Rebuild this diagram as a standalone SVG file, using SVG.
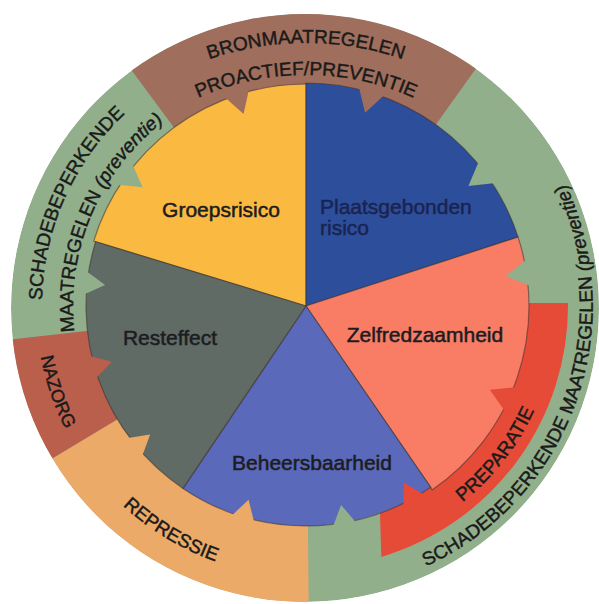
<svg xmlns="http://www.w3.org/2000/svg" width="599" height="604" viewBox="0 0 599 604">
<defs>
<style>
.lbl{font-family:"Liberation Sans",Arial,sans-serif;font-size:21px;fill:#1c1c22;stroke:#1c1c22;stroke-width:0.5;text-anchor:middle}
.ring{font-family:"Liberation Sans",Arial,sans-serif;font-size:19px;fill:#1a1a1a;stroke:#1a1a1a;stroke-width:0.45}
.slice{stroke:#3a3030;stroke-opacity:0.55;stroke-width:1.2}
</style>
<clipPath id="outer"><circle cx="305" cy="308" r="294"/></clipPath>
<path id="tp1" d="M96,130 A297 297 0 0 1 516,130"/>
<path id="tp2" d="M118.6,152.6 A265 265 0 0 1 493.4,152.6"/>
<path id="tp3" d="M68.7,421.7 A264 264 0 0 1 233.2,52.2"/>
<path id="tp4" d="M98.4,411.8 A233 233 0 0 1 237.9,83.2"/>
<path id="tp5" d="M53.9,209.2 A270 270 0 0 0 166.9,537.4"/>
<path id="tp6" d="M38.3,348.4 A271 271 0 0 0 394.2,562.2"/>
<path id="tp7" d="M314.8,556.8 A251 251 0 0 0 551.5,253.8"/>
<path id="tp8" d="M256.2,588.6 A287 287 0 0 0 449.5,57.5"/>
</defs>
<rect width="599" height="604" fill="#ffffff"/>
<g id="ring" clip-path="url(#outer)">
<circle cx="305" cy="308" r="294" fill="#92af8c"/>
<path id="band-bron" d="M306,306 L56.2,-31.6 A420 420 0 0 1 550.5,-35.5 Z" fill="#a06e5c"/>
<path id="band-repressie" d="M306,306 L309.7,726 A420 420 0 0 1 -54,522.3 Z" fill="#ecaa69"/>
<path id="band-nazorg" d="M306,306 L-54,522.3 A420 420 0 0 1 -111.3,353.5 Z" fill="#b95f4b"/>
<path id="band-preparatie" d="M526,303 L568,303 A262 262 0 0 1 381.3,556.9 L380,513 A220 220 0 0 0 526,303 Z" fill="#e64b37"/>
</g>
<g id="pie">
<g id="groepsrisico"><path class="slice" d="M306,306 L93.7,241.1 A222 222 0 0 1 306,84 Z" fill="#fab941"/><text class="lbl" x="221" y="217">Groepsrisico</text></g>
<g id="plaatsgebonden"><path class="slice" d="M306,306 L306,83 A223 223 0 0 1 518.1,237.1 Z" fill="#2d4e9b"/><text class="lbl" style="fill:#1a2450;stroke:#1a2450;text-anchor:start" x="320" y="214">Plaatsgebonden<tspan x="320" y="235">risico</tspan></text></g>
<g id="zelfredzaamheid"><path class="slice" d="M306,306 L518.1,237.1 A223 223 0 0 1 432.3,489.8 Z" fill="#f87d64"/><text class="lbl" x="425" y="342">Zelfredzaamheid</text></g>
<g id="beheersbaarheid"><path class="slice" d="M306,306 L430.6,487.2 A220 220 0 0 1 183,488.4 Z" fill="#5a69b9"/><text class="lbl" x="312" y="470">Beheersbaarheid</text></g>
<g id="resteffect"><path class="slice" d="M306,306 L183,488.4 A220 220 0 0 1 95.6,241.7 Z" fill="#5f6b64"/><text class="lbl" x="170" y="345">Resteffect</text></g>
</g>
<g id="notches">
<polygon points="219.8,92.7 243.6,113.9 250.4,82.8" fill="#a06e5c"/>
<polygon points="357.7,81.9 365.1,112.8 388.4,91.3" fill="#a06e5c"/>
<polygon points="480.9,156.6 468.4,185.9 500,182.4" fill="#92af8c"/>
<polygon points="530.5,256.2 505.8,276.1 535.3,287.9" fill="#92af8c"/>
<polygon points="521.4,386.5 489.8,389.8 508.1,415.8" fill="#e64b37"/>
<polygon points="431.3,498.9 403.9,482.7 403.2,514.4" fill="#e64b37"/>
<polygon points="361.6,529.2 341.1,504.9 330,534.7" fill="#92af8c"/>
<polygon points="256.2,530.5 248.6,499.7 225.5,521.4" fill="#ecaa69"/>
<polygon points="139.2,464.3 150.1,434.5 118.8,439.6" fill="#ecaa69"/>
<polygon points="89.9,384.7 111.8,361.7 81,353.8" fill="#b95f4b"/>
<polygon points="76.1,298 105.1,284.9 79.5,266.1" fill="#92af8c"/>
<polygon points="111,184.1 142.6,187.3 129.8,158.2" fill="#92af8c"/>
</g>
<g id="ring-labels">
<text class="ring" text-anchor="middle"><textPath href="#tp1" startOffset="50%">BRONMAATREGELEN</textPath></text>
<text class="ring" text-anchor="middle"><textPath href="#tp2" startOffset="50%">PROACTIEF/PREVENTIE</textPath></text>
<text class="ring" text-anchor="middle"><textPath href="#tp3" startOffset="50%">SCHADEBEPERKENDE</textPath></text>
<text class="ring" text-anchor="middle"><textPath href="#tp4" startOffset="50%">MAATREGELEN <tspan font-style="italic">(preventie)</tspan></textPath></text>
<text class="ring" text-anchor="middle" style="font-size:18px"><textPath href="#tp5" startOffset="50%">NAZORG</textPath></text>
<text class="ring" text-anchor="middle"><textPath href="#tp6" startOffset="50%">REPRESSIE</textPath></text>
<text class="ring" text-anchor="middle"><textPath href="#tp7" startOffset="50%">PREPARATIE</textPath></text>
<text class="ring" text-anchor="middle"><textPath href="#tp8" startOffset="50%">SCHADEBEPERKENDE MAATREGELEN <tspan font-style="italic">(preventie)</tspan></textPath></text>
</g>
</svg>
